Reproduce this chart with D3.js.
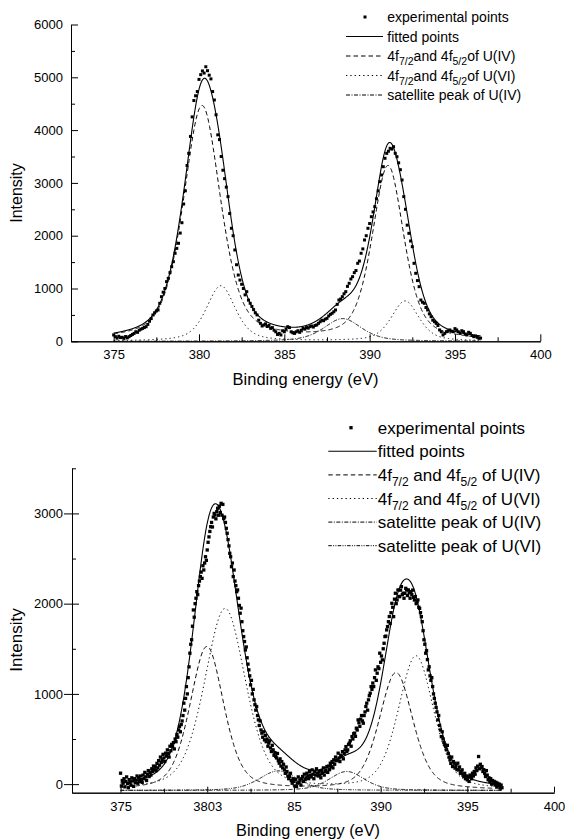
<!DOCTYPE html>
<html>
<head>
<meta charset="utf-8">
<script src="https://cdn.jsdelivr.net/npm/d3@7"></script>
<style>
  body { margin: 0; background: #fff; }
  svg { display: block; }
</style>
</head>
<body>
<svg id="chart" width="565" height="840"></svg>
<script>
// ===================== Upper spectrum (U 4f region) =====================
// Measured intensity, one value every 0.1 eV starting at 375.0 eV
const upperStartEV = 375.0;
const upperStepEV = 0.1;
const upperCounts = [
  120, 88, 60, 95, 70, 76, 55, 90, 65, 88,
  110, 130, 150, 182, 170, 210, 230, 245, 262, 277,
  320, 380, 430, 498, 540, 575, 593, 720, 845, 930,
  1000, 1130, 1193, 1300, 1413, 1508, 1667, 1760, 1856, 2050,
  2246, 2600, 2850, 3330, 3560, 3880, 4250, 4560, 4650, 4730,
  4960, 5050, 5120, 5080, 5200, 5125, 5040, 4970, 4730, 4570,
  4290, 3910, 3820, 3500, 3240, 3080, 2920, 2740, 2420, 2140,
  2000, 1730, 1450, 1255, 1160, 1080, 1000, 880, 940, 780,
  720, 660, 600, 540, 500, 400, 340, 290, 310, 330,
  280, 300, 245, 260, 210, 180, 130, 150, 120, 200,
  180, 230, 277, 260, 180, 160, 150, 180, 200, 170,
  210, 245, 230, 260, 250, 277, 290, 270, 300, 310,
  340, 370, 400, 390, 420, 435, 480, 510, 530, 560,
  593, 700, 782, 800, 845, 900, 940, 1040, 1098, 1180,
  1224, 1300, 1340, 1477, 1520, 1667, 1750, 1919, 2000, 2140,
  2230, 2360, 2450, 2550, 2700, 2850, 3023, 3150, 3307, 3466,
  3560, 3600, 3655, 3640, 3686, 3560, 3496, 3380, 3250, 3055,
  2740, 2500, 2200, 2045, 1900, 1792, 1477, 1288, 1150, 1035,
  782, 740, 720, 640, 593, 520, 466, 400, 371, 340,
  300, 215, 180, 120, 150, 182, 200, 215, 190, 182,
  240, 215, 180, 150, 200, 182, 140, 120, 170, 150,
  110, 88, 100, 76, 57, 60
];
// Fitted pseudo-Voigt peaks (centre eV, height, FWHM eV)
const upperMix = 0.5;
const upperBaseline = 0;
const upperFitRange = [375.0, 396.5];
const upperU4Center = [380.18, 391.08];
const upperU4Height = [4450, 3300];
const upperU4Fwhm = [2.6, 2.2];
const upperU6Center = [381.28, 392.08];
const upperU6Height = [1050, 760];
const upperU6Fwhm = [2.0, 1.9];
const upperSatU4Center = [388.42];
const upperSatU4Height = [430];
const upperSatU4Fwhm = [2.6];
// Axes
const upperXDomain = [372.5, 400];
const upperXTicks = [375, 380, 385, 390, 395, 400];
const upperXTickLabels = ["375", "380", "385", "390", "395", "400"];
const upperXMinor = [377.5, 382.5, 387.5, 392.5, 397.5];
const upperYDomain = [0, 6000];
const upperYTicks = [0, 1000, 2000, 3000, 4000, 5000, 6000];
const upperYTickLabels = ["0", "1000", "2000", "3000", "4000", "5000", "6000"];
const upperYMinor = [500, 1500, 2500, 3500, 4500, 5500];
// Legend
const upperLegend = [
  [{ t: "experimental points" }],
  [{ t: "fitted points" }],
  [{ t: "4f" }, { t: "7/2", sub: true }, { t: "and 4f" }, { t: "5/2", sub: true }, { t: "of U(IV)" }],
  [{ t: "4f" }, { t: "7/2", sub: true }, { t: "and 4f" }, { t: "5/2", sub: true }, { t: "of U(VI)" }],
  [{ t: "satellite peak of U(IV)" }]
];

// ===================== Lower spectrum =====================
// Measured intensity, one value every 0.05 eV starting at 375.0 eV
const lowerStartEV = 375.0;
const lowerStepEV = 0.05;
const lowerCounts = [
  121, -20, 40, 10, 60, -30, 30, 80, 5, -40, 50, 20, -10, 70, 35, -25, 60, 15, 45, 90,
  10, 70, 30, 90, 50, 20, 100, 60, 130, 80, 40, 110, 150, 84, 130, 100, 170, 140, 200, 160,
  195, 150, 230, 180, 260, 210, 300, 240, 270, 330, 290, 250, 343, 310, 380, 340, 300, 420, 370, 440,
  416, 460, 390, 500, 470, 550, 520, 601, 640, 580, 660, 700, 760, 897, 820, 950, 1081, 1000, 1180, 1300,
  1451, 1550, 1600, 1750, 1930, 1850, 2000, 2060, 2133, 2100, 2200, 2250, 2300, 2350, 2280, 2420, 2373, 2450, 2520, 2480,
  2595, 2680, 2740, 2800, 2853, 2900, 2850, 2960, 3000, 2982, 2940, 3020, 3057, 2980, 3080, 3010, 3112, 2980, 3100, 2943,
  2960, 2900, 2835, 2780, 2710, 2640, 2558, 2520, 2410, 2450, 2300, 2373, 2250, 2200, 2133, 2152, 2060, 1980, 1894, 1950,
  1800, 1700, 1635, 1580, 1487, 1520, 1400, 1330, 1266, 1200, 1100, 1150, 1000, 1050, 934, 880, 820, 860, 760, 712,
  650, 700, 600, 565, 520, 580, 490, 540, 470, 500, 420, 454, 480, 400, 361, 430, 380, 320, 350, 306,
  290, 340, 260, 232, 280, 200, 250, 180, 220, 158, 120, 190, 140, 90, 60, 84, 120, 40, 10, 60,
  29, -20, 50, -27, 10, 80, 20, 47, -10, 60, 84, 30, 110, 50, 70, 121, 90, 60, 140, 100,
  80, 158, 110, 60, 140, 100, 170, 121, 90, 140, 103, 70, 150, 120, 180, 100, 140, 158, 195, 130,
  200, 160, 232, 195, 250, 180, 270, 220, 300, 260, 269, 343, 290, 250, 320, 306, 360, 280, 340, 380,
  416, 360, 380, 440, 454, 480, 420, 527, 500, 560, 565, 530, 620, 600, 712, 680, 640, 720, 760, 700,
  675, 760, 800, 860, 897, 820, 934, 980, 1008, 1081, 1050, 1120, 1081, 1180, 1266, 1150, 1229, 1300, 1280, 1451,
  1350, 1420, 1377, 1500, 1561, 1635, 1640, 1709, 1746, 1800, 1857, 1780, 1900, 2004, 1960, 1856, 2050, 2115, 2000, 2041,
  2152, 2080, 2078, 2150, 2189, 2100, 2115, 2060, 2115, 2170, 2152, 2090, 2152, 2120, 2060, 2133, 2100, 2150, 2070, 2040,
  2078, 2000, 2020, 2041, 1960, 1948, 1900, 1856, 1800, 1700, 1600, 1550, 1451, 1480, 1380, 1266, 1300, 1200, 1150, 1180,
  1081, 1000, 950, 897, 850, 800, 712, 760, 650, 600, 527, 580, 500, 460, 440, 416, 380, 430, 340, 300,
  269, 230, 300, 195, 250, 232, 180, 210, 160, 232, 158, 190, 120, 140, 158, 100, 84, 120, 60, 90,
  48, 80, 30, 100, 84, 60, 121, 90, 140, 110, 180, 150, 200, 306, 170, 220, 180, 195, 140, 160,
  120, 84, 150, 100, 48, 70, 30, 60, 0, 40, 11, 30, -10, 20, -27, 10, -20, 0, -45, -10,
  -40
];
// Fitted pseudo-Voigt peaks on a constant background
const lowerMix = 0.4;
const lowerBaseline = -70;
const lowerFitRange = [375.0, 397.0];
const lowerU4Center = [379.98, 390.89];
const lowerU4Height = [1590, 1300];
const lowerU4Fwhm = [2.3, 2.3];
const lowerU6Center = [381.03, 392.04];
const lowerU6Height = [2010, 1480];
const lowerU6Fwhm = [2.8, 2.4];
const lowerSatU4Center = [388.05];
const lowerSatU4Height = [210];
const lowerSatU4Fwhm = [2.4];
const lowerSatU6Center = [384.1];
const lowerSatU6Height = [217];
const lowerSatU6Fwhm = [2.6];
// Axes
const lowerXDomain = [372.2, 400];
const lowerXTicks = [375, 380, 385, 390, 395, 400];
const lowerXTickLabels = ["375", "3803", "85", "390", "395", "400"];
const lowerXMinor = [377.5, 382.5, 387.5, 392.5, 397.5];
const lowerYDomain = [-95, 3500];
const lowerYTicks = [0, 1000, 2000, 3000];
const lowerYTickLabels = ["0", "1000", "2000", "3000"];
const lowerYMinor = [500, 1500, 2500, 3500];
// Legend
const lowerLegend = [
  [{ t: "experimental points" }],
  [{ t: "fitted points" }],
  [{ t: "4f" }, { t: "7/2", sub: true }, { t: " and 4f" }, { t: "5/2", sub: true }, { t: " of U(IV)" }],
  [{ t: "4f" }, { t: "7/2", sub: true }, { t: " and 4f" }, { t: "5/2", sub: true }, { t: " of U(VI)" }],
  [{ t: "satelitte peak of U(IV)" }],
  [{ t: "satelitte peak of U(VI)" }]
];

// ===================== Drawing =====================
const FONT = '"Liberation Sans", Arial, Helvetica, sans-serif';
const svg = d3.select("#chart");

// Line styles for the legend keys / curves
const STYLE = {
  fit: { dash: null, width: 1.1 },
  u4: { dash: "4.5,3", width: 1 },
  u6: { dash: "1.3,3", width: 1 },
  satU4: { dash: "4,1.5,1,1.5", width: 1 },
  satU6: { dash: "3.5,1.3,1,1.3,1,1.3", width: 1 }
};

// Pseudo-Voigt line shape (Lorentzian fraction m)
function pv(e, c, h, w, m) {
  const u = ((e - c) / w) * ((e - c) / w);
  return h * (m / (1 + 4 * u) + (1 - m) * Math.exp(-4 * Math.LN2 * u));
}

function drawPanel(p) {
  const g = svg.append("g");
  const x = d3.scaleLinear().domain(p.xDomain).range(p.xRange);
  const y = d3.scaleLinear().domain(p.yDomain).range(p.yRange);

  const styleAxis = sel => {
    sel.attr("font-family", FONT).attr("font-size", p.tickFont);
    sel.selectAll("path.domain").attr("stroke", "#000").attr("stroke-width", 1);
    sel.selectAll(".tick line").attr("stroke", "#000").attr("stroke-width", 1);
    sel.selectAll(".tick text").attr("fill", "#000");
  };

  // y axis
  const yAx = g.append("g").attr("transform", `translate(${p.xRange[0]},0)`)
    .call(d3.axisLeft(y).tickValues(p.yTicks).tickFormat((d, i) => p.yTickLabels[i])
      .tickSize(p.yTickOut).tickSizeOuter(0).tickPadding(p.yPad));
  styleAxis(yAx);
  if (p.yTickIn) {
    const yIn = g.append("g").attr("transform", `translate(${p.xRange[0]},0)`)
      .call(d3.axisLeft(y).tickValues(p.yTicks).tickFormat("").tickSize(-p.yTickIn).tickSizeOuter(0));
    styleAxis(yIn);
  }
  const yMin = g.append("g").attr("transform", `translate(${p.xRange[0]},0)`)
    .call(d3.axisLeft(y).tickValues(p.yMinor).tickFormat("").tickSize(-4).tickSizeOuter(0));
  styleAxis(yMin);

  // x axis (ticks point into the plot)
  const xAx = g.append("g").attr("transform", `translate(0,${p.xAxisY})`)
    .call(d3.axisBottom(x).tickValues(p.xTicks).tickFormat((d, i) => p.xTickLabels[i])
      .tickSize(-p.xTickLen).tickSizeOuter(0).tickPadding(p.xPad));
  styleAxis(xAx);
  const xMin = g.append("g").attr("transform", `translate(0,${p.xAxisY})`)
    .call(d3.axisBottom(x).tickValues(p.xMinor).tickFormat("").tickSize(-4).tickSizeOuter(0));
  styleAxis(xMin);

  // fitted components and envelope
  const grid = d3.range(p.fitRange[0], p.fitRange[1] + 1e-9, 0.02);
  const line = d3.line().x(d => x(d[0])).y(d => y(d[1]));
  const compValue = (c, e) => d3.sum(c.centers, (cc, i) => pv(e, cc, c.heights[i], c.widths[i], p.mix));
  p.components.forEach(c => {
    const st = STYLE[c.style];
    g.append("path")
      .attr("d", line(grid.map(e => [e, p.baseline + compValue(c, e)])))
      .attr("fill", "none").attr("stroke", "#000")
      .attr("stroke-width", st.width)
      .attr("stroke-dasharray", st.dash);
  });
  g.append("path")
    .attr("d", line(grid.map(e => [e, p.baseline + d3.sum(p.components, c => compValue(c, e))])))
    .attr("fill", "none").attr("stroke", "#000").attr("stroke-width", STYLE.fit.width);

  // experimental points
  const s = p.markerSize;
  g.selectAll("rect.pt").data(p.counts).join("rect")
    .attr("class", "pt")
    .attr("x", (d, i) => x(p.start + i * p.step) - s / 2)
    .attr("y", d => y(d) - s / 2)
    .attr("width", s).attr("height", s)
    .attr("fill", "#000");

  // axis titles
  g.append("text").attr("x", p.xTitle[0]).attr("y", p.xTitle[1])
    .attr("text-anchor", "middle").attr("font-family", FONT).attr("font-size", p.titleFont)
    .attr("fill", "#000").text("Binding energy (eV)");
  g.append("text").attr("transform", `translate(${p.yTitle[0]},${p.yTitle[1]}) rotate(-90)`)
    .attr("text-anchor", "middle").attr("font-family", FONT).attr("font-size", p.yTitleFont)
    .attr("fill", "#000").text("Intensity");

  // legend
  const L = p.legend;
  const keys = ["point", "fit"].concat(p.components.map(c => c.style));
  p.legendRows.forEach((parts, i) => {
    const base = L.y0 + i * L.dy;
    const mid = base - L.mid;
    const key = keys[i];
    if (key === "point") {
      g.append("rect").attr("x", L.dotX - s / 2).attr("y", mid - s / 2)
        .attr("width", s).attr("height", s).attr("fill", "#000");
    } else {
      const st = STYLE[key];
      g.append("line").attr("x1", L.x1).attr("x2", L.x2).attr("y1", mid).attr("y2", mid)
        .attr("stroke", "#000").attr("stroke-width", st.width).attr("stroke-dasharray", st.dash);
    }
    const t = g.append("text").attr("x", L.textX).attr("y", base)
      .attr("font-family", FONT).attr("font-size", L.font).attr("fill", "#000");
    let down = false;
    parts.forEach(part => {
      const ts = t.append("tspan").text(part.t).attr("xml:space", "preserve");
      if (part.sub) { ts.attr("font-size", L.subFont).attr("dy", L.subShift); down = true; }
      else if (down) { ts.attr("dy", -L.subShift); down = false; }
    });
  });
}

drawPanel({
  xDomain: upperXDomain, xRange: [71, 540.3],
  yDomain: upperYDomain, yRange: [341.3, 24.5],
  xAxisY: 341.3,
  xTicks: upperXTicks, xTickLabels: upperXTickLabels, xMinor: upperXMinor,
  yTicks: upperYTicks, yTickLabels: upperYTickLabels, yMinor: upperYMinor,
  yTickOut: -7, yTickIn: 0, yPad: 8, xTickLen: 7, xPad: 8.5,
  tickFont: 13, titleFont: 16.5, yTitleFont: 16,
  counts: upperCounts, start: upperStartEV, step: upperStepEV, markerSize: 3,
  mix: upperMix, baseline: upperBaseline, fitRange: upperFitRange,
  components: [
    { style: "u4", centers: upperU4Center, heights: upperU4Height, widths: upperU4Fwhm },
    { style: "u6", centers: upperU6Center, heights: upperU6Height, widths: upperU6Fwhm },
    { style: "satU4", centers: upperSatU4Center, heights: upperSatU4Height, widths: upperSatU4Fwhm }
  ],
  xTitle: [305.5, 385], yTitle: [21.5, 193],
  legendRows: upperLegend,
  legend: { y0: 22, dy: 19.5, mid: 5, dotX: 365, x1: 346, x2: 383, textX: 387.3, font: 14, subFont: 10.5, subShift: 4 }
});

drawPanel({
  xDomain: lowerXDomain, xRange: [72, 554],
  yDomain: lowerYDomain, yRange: [792.7, 468.3],
  xAxisY: 792.7,
  xTicks: lowerXTicks, xTickLabels: lowerXTickLabels, xMinor: lowerXMinor,
  yTicks: lowerYTicks, yTickLabels: lowerYTickLabels, yMinor: lowerYMinor,
  yTickOut: 8, yTickIn: 7, yPad: 1, xTickLen: 6, xPad: 9.5,
  tickFont: 13, titleFont: 16.3, yTitleFont: 17,
  counts: lowerCounts, start: lowerStartEV, step: lowerStepEV, markerSize: 3.3,
  mix: lowerMix, baseline: lowerBaseline, fitRange: lowerFitRange,
  components: [
    { style: "u4", centers: lowerU4Center, heights: lowerU4Height, widths: lowerU4Fwhm },
    { style: "u6", centers: lowerU6Center, heights: lowerU6Height, widths: lowerU6Fwhm },
    { style: "satU4", centers: lowerSatU4Center, heights: lowerSatU4Height, widths: lowerSatU4Fwhm },
    { style: "satU6", centers: lowerSatU6Center, heights: lowerSatU6Height, widths: lowerSatU6Fwhm }
  ],
  xTitle: [308, 836], yTitle: [21.5, 640],
  legendRows: lowerLegend,
  legend: { y0: 433.7, dy: 23.6, mid: 6, dotX: 351, x1: 328.3, x2: 376.7, textX: 377.7, font: 17, subFont: 12, subShift: 5 }
});
</script>
</body>
</html>
